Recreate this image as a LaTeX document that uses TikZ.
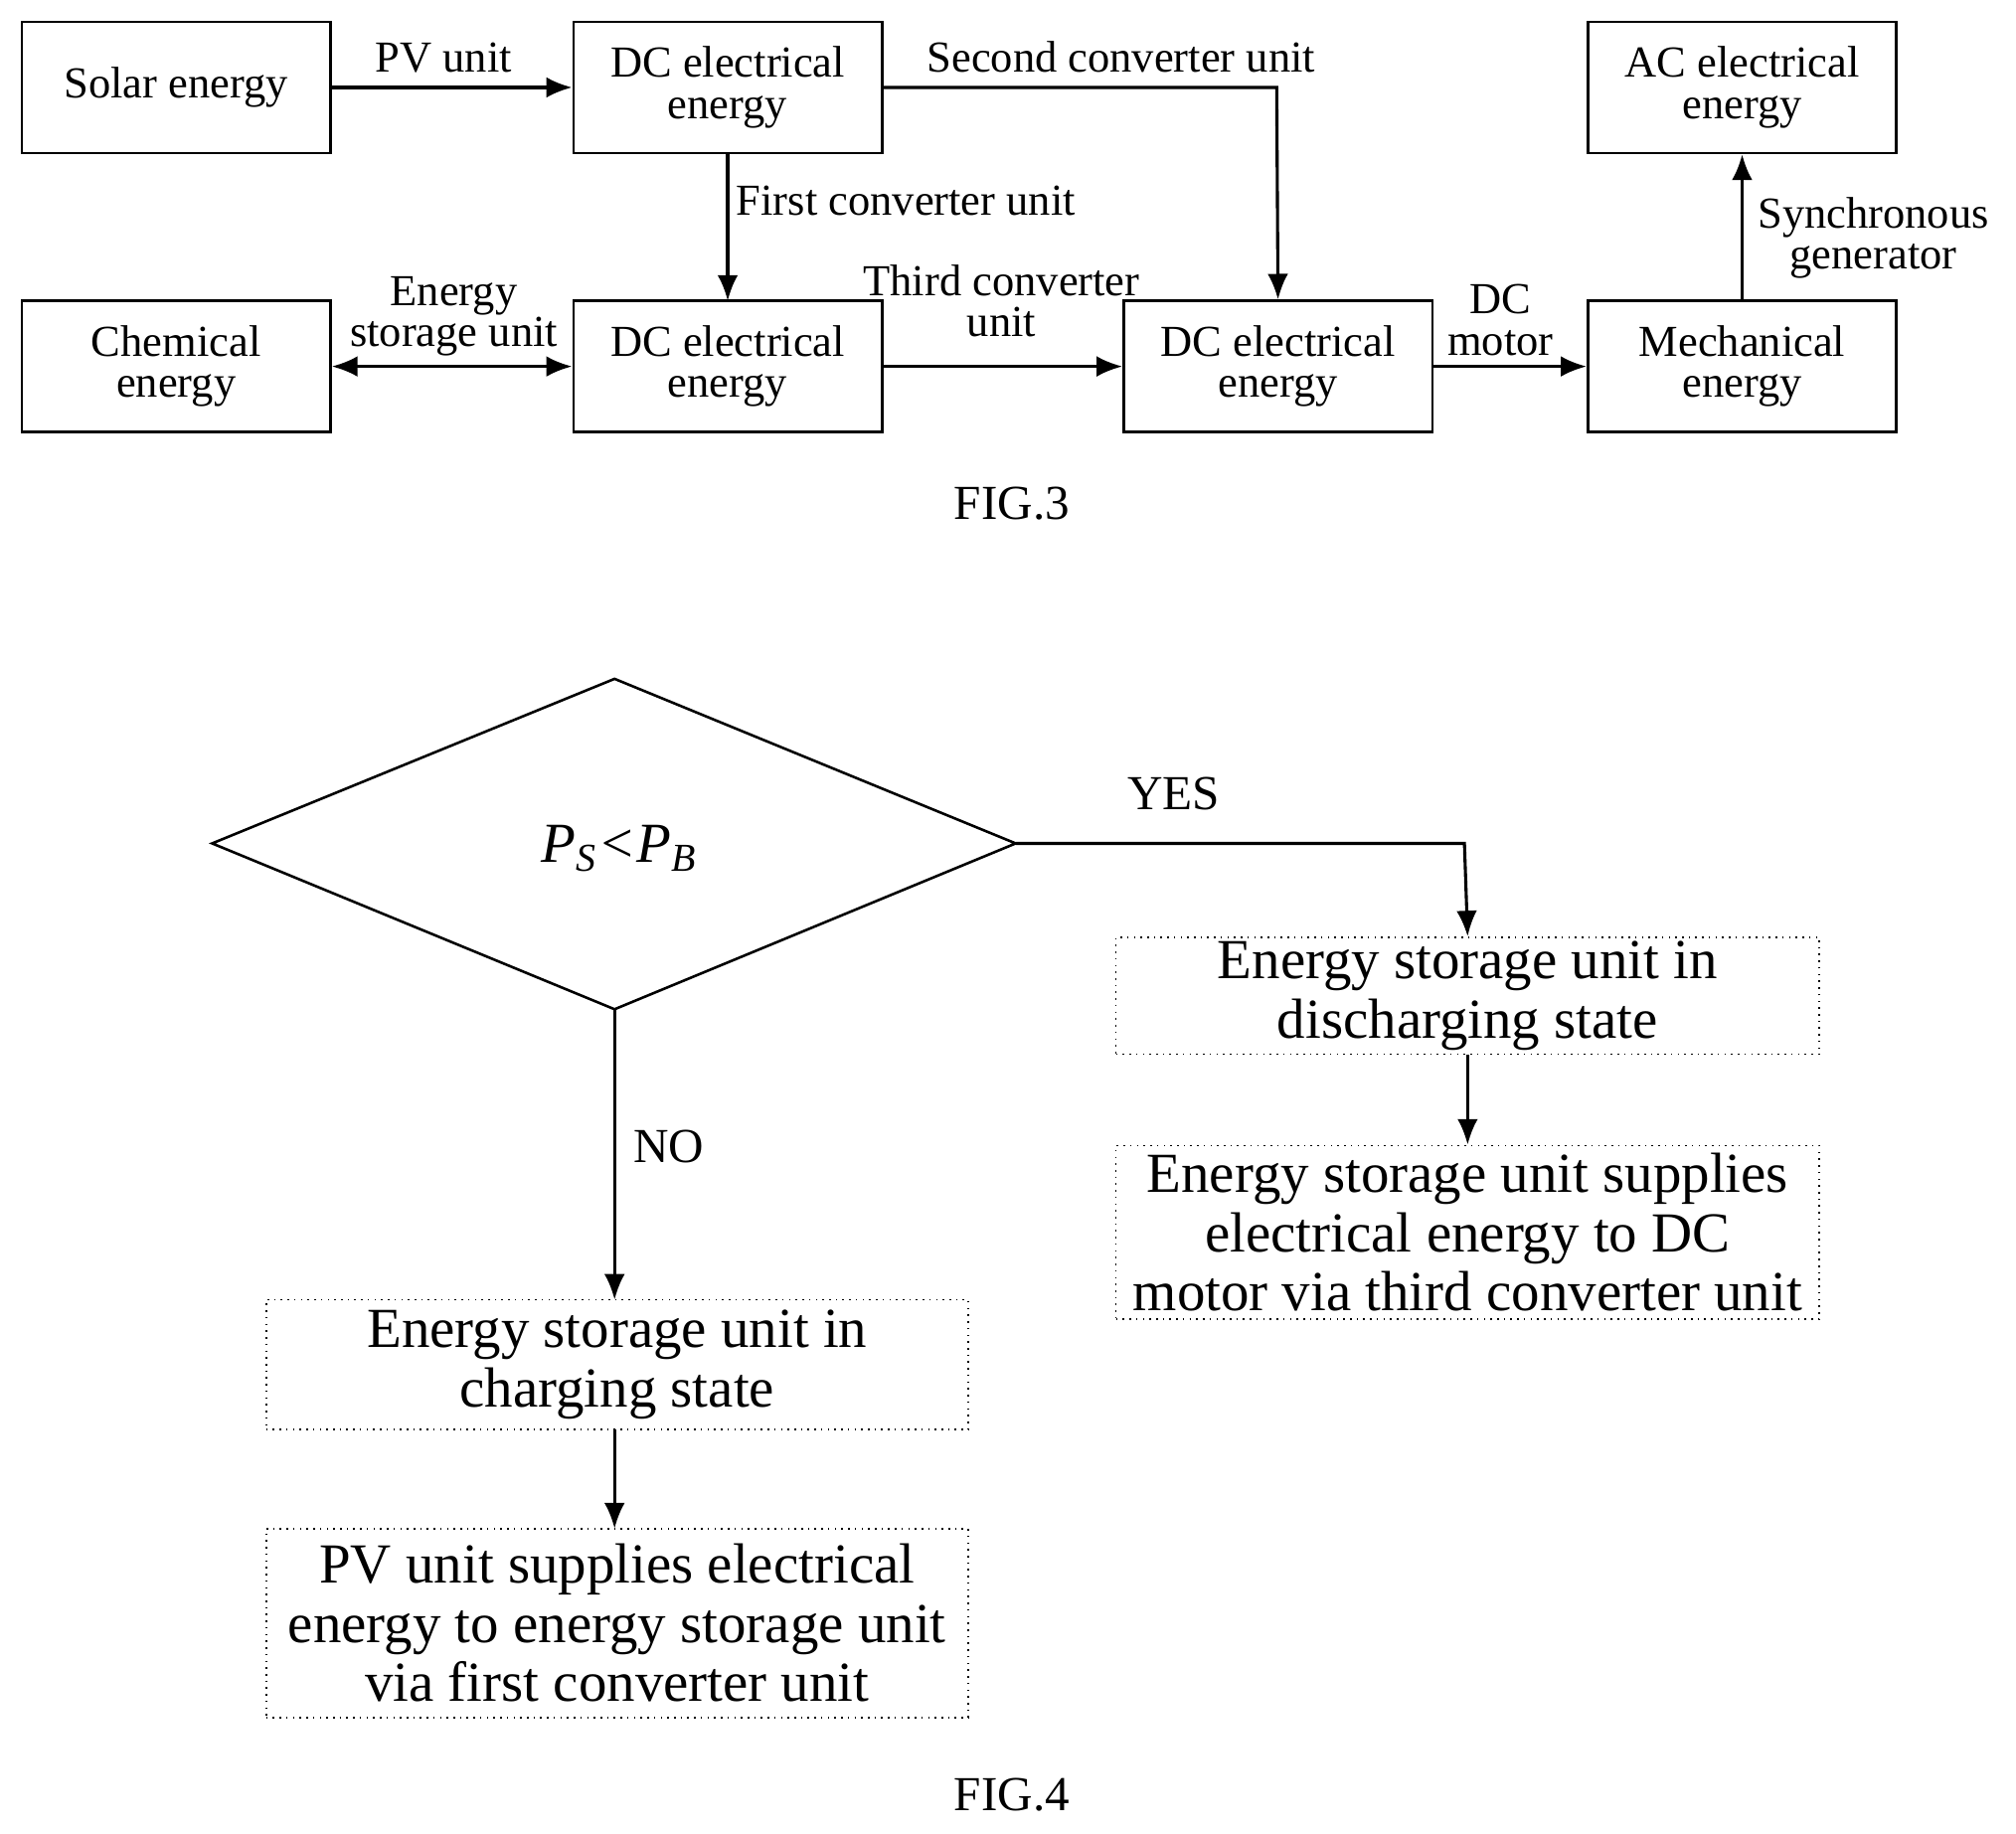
\documentclass[tikz,border=0pt]{standalone}
\usepackage{fontspec}
\setmainfont{Liberation Serif}
\usetikzlibrary{arrows.meta}
\begin{document}
\begin{tikzpicture}[x=0.25pt,y=-0.25pt,
 box/.style={draw,line width=0.5pt,align=center,inner sep=0pt,font=\fontsize{8.6}{8}\selectfont},
 fbox/.style={draw,densely dotted,line width=0.3pt,align=center,inner sep=0pt,font=\fontsize{11}{11.5}\selectfont},
 lab/.style={align=center,inner sep=0pt,font=\fontsize{8.6}{8}\selectfont},
 flab/.style={inner sep=0pt,font=\fontsize{9.5}{10}\selectfont},
 ar/.style={line width=0.6pt,-{Latex[length=5pt,width=4pt]}},
 ln/.style={line width=0.6pt}]
\useasboundingbox (0,0) rectangle (1568,1426);
\newcommand\bx[6]{\node[box,minimum width=#4*0.25pt-#2*0.25pt,minimum height=#5*0.25pt-#3*0.25pt] (#1) at ({(#2+#4)/2},{(#3+#5)/2}) {#6};}
\bx{solar}{17}{17}{257}{119}{Solar energy}
\bx{dca}{446}{17}{686}{119}{DC electrical\\energy}
\bx{ac}{1235}{17}{1475}{119}{AC electrical\\energy}
\bx{chem}{17}{234}{257}{336}{Chemical\\energy}
\bx{dcb}{446}{234}{686}{336}{DC electrical\\energy}
\bx{dcc}{874}{234}{1114}{336}{DC electrical\\energy}
\bx{mech}{1235}{234}{1475}{336}{Mechanical\\energy}
\draw[ar] (solar.east) -- (dca.west);
\node[lab] at (345,45) {PV unit};
\coordinate (c1) at (993,68);
\draw[ar] (dca.east) -- (c1) -- (dcc.north);
\node[lab] at (872,44) {Second converter unit};
\draw[ar] (566,119) -- (566,234);
\node[lab,anchor=west] at (572,156) {First converter unit};
\draw[line width=0.6pt,{Latex[length=5pt,width=4pt]}-{Latex[length=5pt,width=4pt]}] (chem.east) -- (dcb.west);
\node[lab] at (353,246) {Energy\\storage unit};
\draw[ar] (dcb.east) -- (dcc.west);
\node[lab] at (779,234) {Third converter\\unit};
\draw[ar] (dcc.east) -- (mech.west);
\node[lab] at (1167,249) {DC\\motor};
\draw[ar] (mech.north) -- (ac.south);
\node[lab] at (1457,185) {Synchronous\\generator};
\node[flab] at (787,392) {FIG.3};
% FIG4
\node[inner sep=0pt] (dia) at (478,656) {};
\draw[line width=0.5pt] (165,656) coordinate (dl) -- (478,528) -- (790,656) coordinate (dr) -- (478,785) coordinate (db) -- cycle;
\node[font=\fontsize{11}{11}\selectfont\itshape] at (482,660) {P\textsubscript{S}<P\textsubscript{B}};
\newcommand\fb[6]{\node[fbox,minimum width=#4*0.25pt-#2*0.25pt,minimum height=#5*0.25pt-#3*0.25pt] (#1) at ({(#2+#4)/2},{(#3+#5)/2}) {#6};}
\fb{b1}{868}{729}{1415}{820}{Energy storage unit in\\discharging state}
\fb{b2}{868}{891}{1415}{1026}{Energy storage unit supplies\\electrical energy to DC\\motor via third converter unit}
\fb{b3}{207}{1011}{753}{1112}{Energy storage unit in\\charging state}
\fb{b4}{207}{1189}{753}{1336}{PV unit supplies electrical\\energy to energy storage unit\\via first converter unit}
\coordinate (c2) at (1139,656);
\draw[ar] (dr) -- (c2) -- (b1.north);
\node[flab] at (913,617) {YES};
\draw[ar] (b1.south) -- (b2.north);
\draw[ar] (db) -- (478,1011);
\node[flab] at (520,892) {NO};
\draw[ar] (478,1112) -- (478,1189);
\node[flab] at (787,1396) {FIG.4};
\end{tikzpicture}
\end{document}
